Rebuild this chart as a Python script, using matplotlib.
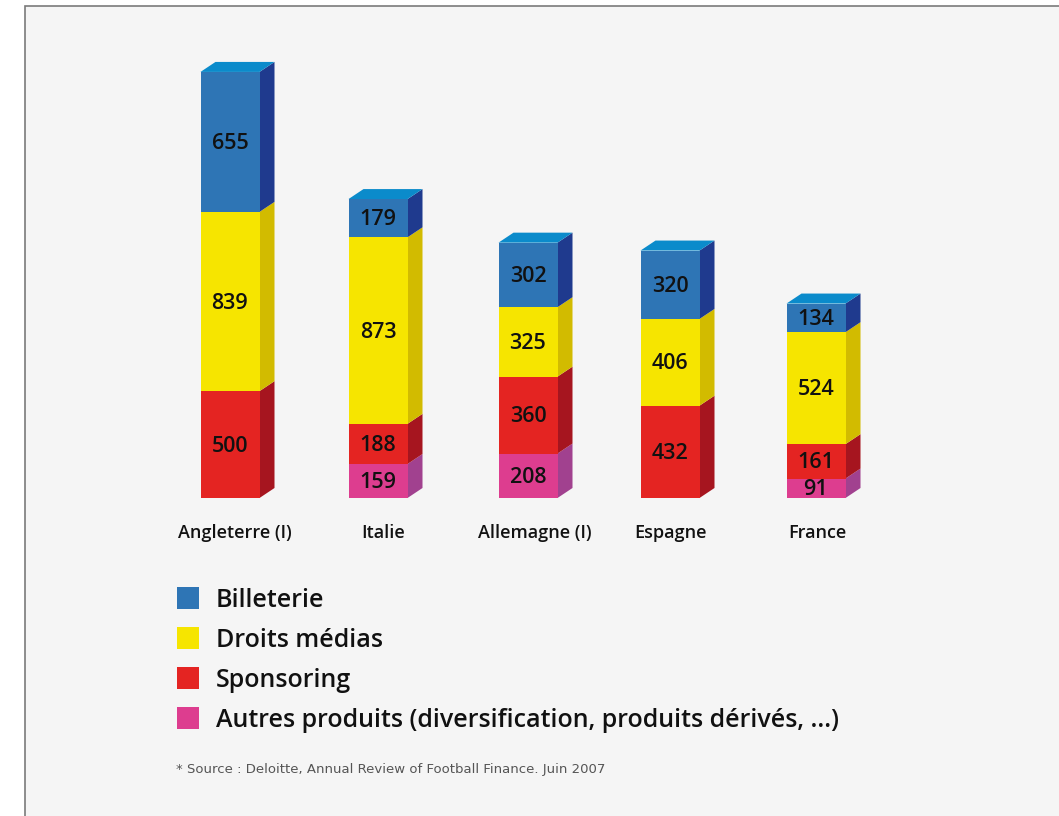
import matplotlib
matplotlib.use("Agg")
import matplotlib.pyplot as plt
from matplotlib.patches import Polygon, Rectangle

# ---- data ----
categories = ["Angleterre (I)", "Italie", "Allemagne (I)", "Espagne", "France"]
autres = [0, 159, 208, 0, 91]
sponsoring = [500, 188, 360, 432, 161]
droits = [839, 873, 325, 406, 524]
billeterie = [655, 179, 302, 320, 134]
series_names = ["Billeterie", "Droits médias", "Sponsoring",
                "Autres produits (diversification, produits dérivés, ...)"]
source = "* Source : Deloitte, Annual Review of Football Finance. Juin 2007"

# ---- layout / style ----
W, H = 1059, 816
FONT = ["Open Sans", "DejaVu Sans"]
front = {"autres": "#dd3d8f", "sponsoring": "#e42422", "droits": "#f6e500", "billeterie": "#2e75b5"}
side = {"autres": "#a1418f", "sponsoring": "#a6151f", "droits": "#d2bb00", "billeterie": "#1f3a8e"}
top_col = "#0b8bcb"
centers = [230, 378, 528, 670, 816]
label_x = [235, 383, 535, 671, 817]
bar_w = 59
dx = 15            # depth in px
dy_px = 10
base_px = 498      # pixel row of value 0
upp = 4.68         # value units per pixel

fig = plt.figure(figsize=(W / 100, H / 100), dpi=100)
fig.patch.set_facecolor("white")
# panel
fig.patches.append(Rectangle((25 / W, -0.05), 1, (H - 6) / H + 0.05, transform=fig.transFigure,
                             facecolor="#f5f5f5", edgecolor="#7a7a7a", linewidth=1.2, zorder=-5))

ax = fig.add_axes([0, 0, 1, 1])
ax.set_xlim(0, W)
ax.set_ylim(-(H - base_px) * upp, base_px * upp)
ax.axis("off")
ax.patch.set_alpha(0)
dy = dy_px * upp

stack = [("autres", autres), ("sponsoring", sponsoring), ("droits", droits), ("billeterie", billeterie)]
for i, cx in enumerate(centers):
    bottom = 0
    xl, xr = cx - bar_w / 2, cx + bar_w / 2
    for key, vals in stack:
        v = vals[i]
        if v <= 0:
            continue
        ax.bar(cx, v, bottom=bottom, width=bar_w, color=front[key], linewidth=0, zorder=3)
        ax.add_patch(Polygon([(xr, bottom), (xr + dx, bottom + dy), (xr + dx, bottom + v + dy),
                              (xr, bottom + v)], closed=True, facecolor=side[key],
                             linewidth=0, zorder=2))
        ax.text(cx, bottom + v / 2 - 1.5 * upp, str(v), ha="center", va="center", fontsize=15.5,
                fontweight="semibold", family=FONT, color="#111111", zorder=5)
        bottom += v
    ax.add_patch(Polygon([(xl, bottom), (xl + dx, bottom + dy), (xr + dx, bottom + dy),
                          (xr, bottom)], closed=True, facecolor=top_col, linewidth=0, zorder=2))
    ax.text(label_x[i], -35.5 * upp, categories[i], ha="center", va="center", fontsize=13,
            fontweight="semibold", family=FONT, color="#111111")

# legend
leg_rows = [598, 638, 678, 718]
leg_cols = [front["billeterie"], front["droits"], front["sponsoring"], front["autres"]]
for yc, col, name in zip(leg_rows, leg_cols, series_names):
    fig.patches.append(Rectangle((177 / W, (H - yc - 11) / H), 22 / W, 22 / H,
                                 transform=fig.transFigure, facecolor=col, linewidth=0, zorder=3))
    fig.text(216 / W, (H - yc - 2.5) / H, name, ha="left", va="center", fontsize=18,
             fontweight="semibold", family=FONT, color="#111111")

fig.text(176 / W, (H - 770) / H, source, ha="left", va="center", fontsize=9.5,
         family=["DejaVu Sans"], color="#555555")

fig.savefig("out.png", dpi=100, facecolor=fig.get_facecolor())
